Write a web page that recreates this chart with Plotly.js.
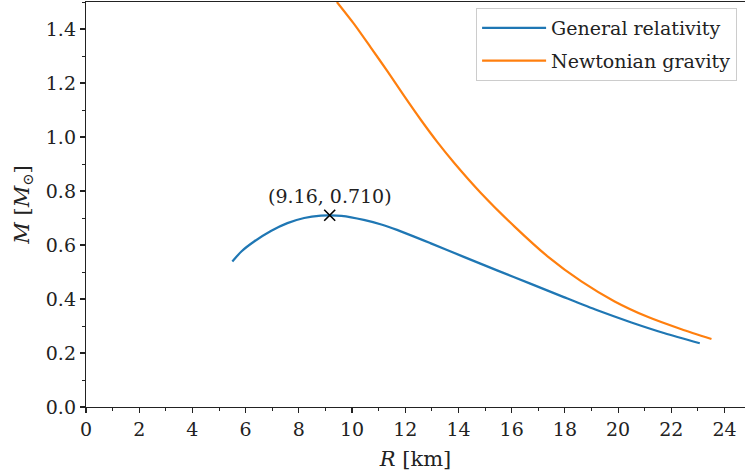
<!DOCTYPE html>
<html>
<head>
<meta charset="utf-8">
<script src="https://cdn.plot.ly/plotly-3.0.1.min.js"></script>
<style>html,body{margin:0;padding:0;background:#fff;}#chart{width:745px;height:475px;}</style>
</head>
<body>
<div id="chart"></div>
<script>
// General relativity mass-radius curve (R in km, M in solar masses)
const grR = [5.50, 5.85, 6.32, 6.95, 7.57, 8.20, 8.83, 9.16, 9.60, 10.44, 11.10, 11.69, 12.94, 14.20, 15.45, 16.70, 17.96, 19.22, 20.50, 21.75, 23.07];
const grM = [0.539, 0.577, 0.613, 0.652, 0.681, 0.700, 0.709, 0.710, 0.708, 0.693, 0.676, 0.656, 0.607, 0.556, 0.506, 0.457, 0.407, 0.358, 0.313, 0.273, 0.236];
// Newtonian gravity mass-radius curve
const nwR = [9.43, 10.08, 10.70, 11.34, 11.95, 12.59, 13.20, 13.85, 14.85, 16.11, 17.36, 18.62, 19.87, 21.13, 22.38, 23.51];
const nwM = [1.500, 1.418, 1.332, 1.242, 1.153, 1.063, 0.982, 0.903, 0.792, 0.668, 0.557, 0.465, 0.391, 0.333, 0.288, 0.252];
// Maximum-mass point
const maxR = [9.16];
const maxM = [0.710];
const maxLabel = "(9.16, 0.710)";

const FONT = "DejaVu Serif";

const traces = [
  {x: grR, y: grM, mode: 'lines', name: 'General relativity', legendgroup: 'a',
   line: {color: '#1f77b4', width: 2.2, shape: 'spline', smoothing: 0.7}},
  {x: nwR, y: nwM, mode: 'lines', name: 'Newtonian gravity', legendgroup: 'b',
   line: {color: '#ff7f0e', width: 2.2, shape: 'spline', smoothing: 0.7}},
  {x: maxR, y: maxM, mode: 'markers', showlegend: false,
   marker: {symbol: 'x-thin', size: 11, color: 'black', line: {color: 'black', width: 1.6}}}
];

const axisCommon = {
  showgrid: false, zeroline: false, showline: true, linecolor: '#222', linewidth: 1.2,
  ticks: 'outside', ticklen: 5, tickwidth: 1.1, tickcolor: '#222',
  tickfont: {family: FONT, size: 19, color: '#222'}
};

const layout = {
  width: 745, height: 475,
  margin: {l: 86, r: 0, t: 2, b: 68},
  paper_bgcolor: '#fff', plot_bgcolor: '#fff',
  font: {family: FONT, size: 19, color: '#222'},
  showlegend: true,
  legend: {x: 0.988, xanchor: 'right', y: 0.985, yanchor: 'top',
           bordercolor: '#cccccc', borderwidth: 1, bgcolor: 'rgba(255,255,255,0.8)',
           traceorder: 'grouped', tracegroupgap: 5, itemwidth: 64,
           font: {family: FONT, size: 19, color: '#222'}},
  xaxis: Object.assign({}, axisCommon, {
    range: [0, 24.77], dtick: 2, tick0: 0, mirror: true,
    minor: {dtick: 1, ticklen: 3, tickwidth: 1, tickcolor: '#222', ticks: 'outside'},
    title: {text: '<i>R</i> [km]', font: {family: FONT, size: 21, color: '#222'}, standoff: 12}
  }),
  yaxis: Object.assign({}, axisCommon, {
    range: [0, 1.5], dtick: 0.2, tick0: 0, tickformat: '.1f', mirror: false,
    minor: {dtick: 0.1, ticklen: 3, tickwidth: 1, tickcolor: '#222', ticks: 'outside'},
    title: {text: '<i>M</i> [<i>M</i><sub>⊙</sub>]', font: {family: FONT, size: 21, color: '#222'}, standoff: 10}
  }),
  annotations: [{x: maxR[0], y: maxM[0], xref: 'x', yref: 'y', text: maxLabel, showarrow: false,
                 yanchor: 'bottom', yshift: 6, font: {family: FONT, size: 19, color: '#222'}}]
};

Plotly.newPlot('chart', traces, layout, {staticPlot: true, displayModeBar: false});
</script>
</body>
</html>
